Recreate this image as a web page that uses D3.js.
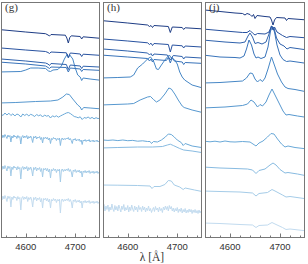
<!DOCTYPE html>
<html>
<head>
<meta charset="utf-8">
<script src="https://cdn.jsdelivr.net/npm/d3@7"></script>
<style>
  body { margin: 0; background: #fff; }
  svg { display: block; }
</style>
</head>
<body>
<div id="plot"></div>
<script>
// wavelength grids for the noisy (sampled) spectra
var grid = d3.range(4550, 4751, 4);
var fine = d3.range(4550, 4751, 2);

// ---- panel (g) ----
var g1 = [[4545,20.75],[4600,20.5],[4640,20.33],[4645,20.2],[4648,20.1],[4651,20.25],[4680,20.18],[4683,19.9],[4686,19.4],[4689,19.95],[4692,20.12],[4710,20.05],[4713,19.8],[4716,20.02],[4755,19.85]];
var g2 = [[4545,18.92],[4600,18.7],[4640,18.55],[4645,18.45],[4648,18.35],[4651,18.5],[4682,18.42],[4686,17.95],[4690,18.4],[4710,18.3],[4713,18.05],[4716,18.28],[4755,18.15]];
var g3 = [[4545,17.82],[4600,17.6],[4640,17.4],[4645,17.3],[4648,17.15],[4651,17.35],[4682,17.25],[4686,16.75],[4690,17.2],[4710,17.1],[4713,16.85],[4716,17.08],[4755,16.98]];
var g4 = [[4545,17.5],[4600,17.3],[4640,17.1],[4645,16.95],[4648,16.85],[4651,17.0],[4682,16.95],[4686,16.5],[4690,16.9],[4710,16.8],[4713,16.55],[4716,16.75],[4755,16.65]];
var g5 = [[4545,16.5],[4590,16.55],[4600,16.7],[4610,16.9],[4625,16.9],[4640,16.85],[4646,16.6],[4650,16.55],[4655,16.7],[4665,16.75],[4672,17.1],[4678,17.8],[4684,18.3],[4686,17.9],[4689,18.2],[4695,17.8],[4700,16.9],[4705,16.2],[4710,16.0],[4713,15.65],[4716,15.9],[4730,15.8],[4755,15.65]];
var g6 = [[4545,13.4],[4580,13.45],[4620,13.55],[4650,13.6],[4665,13.7],[4675,14.0],[4682,14.3],[4688,14.25],[4695,13.8],[4705,13.2],[4710,13.0],[4713,12.7],[4717,12.95],[4730,12.9],[4755,12.8]];
var g7 = [12.3,12.15,12.4,12.2,12.38,12.15,12.32,12.1,12.3,12.22,12.0,12.3,12.15,12.3,12.1,12.27,12.18,12.05,12.25,12.12,12.22,12.0,12.2,12.08,12.15,11.9,12.12,12.02,12.12,11.98,12.1,12.2,12.3,12.4,12.45,12.35,12.2,12.05,12.0,11.92,12.02,11.75,11.95,11.88,12.0,11.85,11.96,11.82,11.93,11.84,11.9];
var g8 = [10.1,9.9,10.2,9.95,10.25,10.05,9.85,10.2,10.0,10.15,9.5,10.1,9.9,10.2,10.0,10.1,9.85,10.15,9.95,10.05,9.3,10.0,10.15,9.9,10.1,9.95,10.15,9.8,10.05,9.9,10.1,9.85,9.45,10.05,9.9,10.1,9.8,10.0,9.9,10.05,9.75,9.95,9.4,9.95,9.85,10.0,9.8,9.95,9.7,9.9,9.35,9.85,9.75,9.95,9.8,9.9,9.65,9.85,9.75,9.9,9.15,9.8,9.9,9.7,9.85,9.75,9.9,9.8,9.95,9.7,9.85,9.65,9.35,9.8,9.7,9.85,9.6,9.75,9.65,9.8,9.55,9.7,9.25,9.7,9.6,9.75,9.55,9.7,9.6,9.75,9.5,9.65,9.55,9.7,9.5,9.65,9.55,9.7,9.5,9.62,9.55];
var g9 = [7.0,6.75,7.1,6.8,7.15,6.9,6.6,7.1,6.85,7.05,6.1,7.0,6.75,7.1,6.9,7.0,6.7,7.05,6.8,6.95,5.8,6.9,7.05,6.75,7.0,6.8,7.05,6.6,6.95,6.75,7.0,6.7,6.1,6.95,6.75,7.0,6.6,6.9,6.75,6.95,6.55,6.85,6.0,6.85,6.7,6.9,6.6,6.85,6.5,6.8,5.9,6.75,6.6,6.85,6.65,6.8,6.45,6.75,6.6,6.8,5.5,6.7,6.8,6.55,6.75,6.6,6.8,6.65,6.85,6.55,6.75,6.5,6.0,6.7,6.55,6.75,6.45,6.65,6.5,6.7,6.4,6.6,6.0,6.6,6.45,6.65,6.4,6.6,6.45,6.65,6.35,6.55,6.4,6.6,6.35,6.55,6.4,6.6,6.35,6.52,6.45];
var g10 = [4.0,3.7,4.1,3.8,4.15,3.9,3.55,4.1,3.85,4.05,3.0,4.0,3.75,4.1,3.9,4.0,3.65,4.05,3.8,3.95,2.7,3.9,4.05,3.75,4.0,3.8,4.05,3.55,3.95,3.75,4.0,3.7,3.0,3.95,3.75,4.0,3.6,3.9,3.75,3.95,3.5,3.85,2.9,3.85,3.7,3.9,3.6,3.85,3.5,3.8,2.9,3.75,3.6,3.85,3.65,3.8,3.45,3.75,3.6,3.8,2.4,3.7,3.8,3.55,3.75,3.6,3.8,3.65,3.85,3.55,3.75,3.5,2.9,3.7,3.55,3.75,3.45,3.65,3.5,3.7,3.4,3.6,2.9,3.6,3.45,3.65,3.4,3.6,3.45,3.65,3.35,3.55,3.4,3.6,3.35,3.55,3.4,3.6,3.35,3.52,3.45];

// ---- panel (h) ----
var h1 = [[4545,21.65],[4600,21.4],[4640,21.2],[4644,21.05],[4647,21.15],[4650,20.95],[4653,21.15],[4682,21.05],[4686,20.45],[4690,21.0],[4710,20.95],[4713,20.75],[4716,20.92],[4755,20.8]];
var h2 = [[4545,19.82],[4600,19.6],[4640,19.42],[4644,19.25],[4647,19.38],[4650,19.15],[4653,19.35],[4682,19.25],[4686,18.5],[4690,19.2],[4710,19.12],[4713,18.9],[4716,19.1],[4755,18.98]];
var h3 = [[4545,18.82],[4600,18.6],[4640,18.4],[4644,18.2],[4647,18.35],[4650,18.1],[4653,18.3],[4680,18.2],[4686,17.7],[4692,18.15],[4710,18.05],[4713,17.8],[4716,18.0],[4755,17.88]];
var h4 = [[4545,18.2],[4600,18.0],[4640,17.85],[4644,17.6],[4647,17.8],[4650,17.5],[4653,17.75],[4678,17.65],[4682,17.95],[4686,17.4],[4690,17.95],[4694,17.6],[4710,17.5],[4713,17.25],[4716,17.45],[4755,17.35]];
var h5 = [[4545,15.9],[4580,15.95],[4605,16.0],[4612,16.2],[4620,16.9],[4630,17.3],[4640,17.8],[4646,18.0],[4652,17.6],[4658,16.8],[4662,16.75],[4668,17.2],[4675,17.7],[4680,18.0],[4684,18.2],[4688,17.9],[4695,17.7],[4700,17.3],[4705,16.5],[4710,16.0],[4715,15.7],[4730,15.2],[4755,14.85]];
var h6 = [[4545,13.2],[4600,13.3],[4612,13.35],[4625,13.7],[4640,14.0],[4646,14.05],[4652,13.75],[4658,13.5],[4665,13.7],[4675,14.3],[4683,14.9],[4688,14.8],[4695,14.3],[4702,13.7],[4710,13.1],[4714,12.95],[4730,12.7],[4755,12.4]];
var h7 = [[4545,9.72],[4560,9.66],[4570,9.7],[4580,9.64],[4590,9.7],[4600,9.63],[4610,9.66],[4620,9.58],[4630,9.62],[4640,9.55],[4645,9.55],[4648,9.35],[4652,9.55],[4660,9.5],[4668,9.7],[4676,10.0],[4682,10.3],[4688,10.25],[4694,10.0],[4700,9.7],[4708,9.45],[4712,9.15],[4716,9.35],[4730,9.1],[4755,8.9]];
var h8 = [[4545,8.9],[4580,8.95],[4620,9.0],[4650,9.0],[4670,9.05],[4680,9.2],[4686,9.28],[4692,9.15],[4705,8.85],[4713,8.7],[4730,8.6],[4755,8.4]];
var h9 = [[4545,5.2],[4580,5.18],[4620,5.15],[4645,5.1],[4649,4.85],[4653,5.05],[4665,5.05],[4675,5.25],[4682,5.65],[4688,5.6],[4694,5.2],[4705,5.0],[4712,4.75],[4716,4.9],[4735,4.7],[4755,4.5]];
var h10 = [2.9,3.25,2.6,3.1,2.75,3.2,2.55,3.0,2.7,3.3,2.8,2.55,3.15,2.7,3.05,2.6,3.2,2.85,2.5,3.1,2.75,3.25,2.6,2.95,2.7,3.15,2.5,3.0,2.65,3.2,2.8,2.55,3.1,2.7,3.0,2.5,3.15,2.75,2.95,2.55,3.1,2.7,3.0,2.5,2.9,2.65,3.1,2.6,2.85,2.45,2.75,2.95,2.55,3.05,2.7,2.9,2.5,3.0,2.65,2.85,2.45,3.0,2.7,3.1,2.75,3.05,2.6,3.15,2.8,3.05,2.6,2.9,2.5,2.85,2.6,2.95,2.45,2.8,2.55,2.9,2.4,2.75,2.5,2.85,2.4,2.7,2.45,2.8,2.5,2.75,2.35,2.7,2.45,2.75,2.4,2.65,2.35,2.7,2.4,2.6,2.45];

// ---- panel (j) ----
var j1 = [[4545,22.72],[4580,22.55],[4610,22.4],[4625,22.35],[4630,22.2],[4634,22.35],[4640,22.25],[4644,22.05],[4647,22.25],[4650,21.85],[4654,22.15],[4670,22.05],[4680,22.0],[4683,21.7],[4686,21.2],[4689,21.7],[4693,21.95],[4710,21.9],[4713,21.65],[4716,21.85],[4755,21.7]];
var j2 = [[4545,20.8],[4590,20.6],[4625,20.45],[4634,20.45],[4640,20.65],[4645,20.4],[4650,20.2],[4655,20.35],[4670,20.3],[4678,20.5],[4683,21.1],[4686,20.7],[4689,21.0],[4694,20.5],[4705,20.15],[4713,19.95],[4720,20.05],[4755,19.9]];
var j3 = [[4545,19.7],[4590,19.5],[4620,19.4],[4630,19.5],[4636,20.1],[4640,20.4],[4645,20.0],[4650,19.35],[4656,19.45],[4664,19.3],[4672,19.5],[4678,20.3],[4683,21.1],[4688,20.9],[4693,19.9],[4700,19.3],[4708,19.1],[4714,18.8],[4720,18.95],[4755,18.7]];
var j4 = [[4545,18.2],[4580,18.0],[4610,17.95],[4620,17.9],[4628,18.1],[4633,18.8],[4638,19.7],[4643,19.2],[4648,18.3],[4652,17.9],[4656,18.0],[4662,17.85],[4670,18.0],[4676,19.0],[4681,20.6],[4685,21.0],[4689,20.5],[4694,19.2],[4700,18.2],[4706,17.75],[4713,17.55],[4720,17.6],[4755,17.35]];
var j5 = [[4545,15.4],[4580,15.45],[4610,15.55],[4625,15.6],[4633,15.9],[4640,16.4],[4645,16.35],[4650,15.8],[4655,15.5],[4660,15.75],[4665,15.55],[4670,15.9],[4676,16.8],[4683,18.0],[4688,17.3],[4695,16.3],[4703,15.5],[4710,15.0],[4716,14.85],[4730,14.75],[4755,14.5]];
var j6 = [[4545,12.9],[4590,13.0],[4625,13.15],[4635,13.3],[4642,13.7],[4648,13.5],[4655,13.0],[4660,13.25],[4665,13.1],[4672,13.5],[4678,14.2],[4684,14.8],[4690,14.2],[4698,13.4],[4706,12.6],[4712,12.2],[4718,12.25],[4735,12.1],[4755,11.95]];
var j7 = [[4545,9.6],[4560,9.52],[4570,9.58],[4580,9.5],[4590,9.6],[4600,9.52],[4610,9.5],[4625,9.55],[4640,9.5],[4646,9.3],[4652,9.1],[4658,9.4],[4666,9.6],[4675,10.0],[4682,10.35],[4688,10.3],[4695,9.8],[4703,9.3],[4710,9.0],[4716,9.1],[4730,8.95],[4755,8.8]];
var j8 = [[4545,7.0],[4580,6.9],[4610,6.85],[4635,6.8],[4645,6.7],[4652,6.35],[4658,6.65],[4670,6.8],[4680,7.2],[4686,7.4],[4692,7.2],[4700,6.75],[4710,6.4],[4716,6.45],[4735,6.3],[4755,6.1]];
var j9 = [[4545,4.6],[4580,4.55],[4620,4.5],[4645,4.4],[4652,4.1],[4658,4.35],[4675,4.45],[4684,4.75],[4690,4.6],[4705,4.2],[4712,4.0],[4720,4.05],[4755,3.8]];
var j10 = [[4545,1.4],[4580,1.35],[4620,1.25],[4645,1.2],[4652,0.95],[4658,1.15],[4675,1.2],[4684,1.45],[4690,1.3],[4705,0.95],[4712,0.75],[4720,0.8],[4755,0.6]];

// line shades, top (dark) to bottom (light)
var shades = ["#1d3c85","#2852a0","#2f62ad","#3873ba","#4687c6","#5798cf","#6aa9d8","#88bbe1","#a5cce8","#c2dbef"];

var xTicks = [4600, 4700];
var xMinor = d3.range(4560, 4750, 20);

function onGrid(g, vals) { return d3.zip(g, vals); }

var panels = [
  {label: "(g)", left: 1,   right: 100, spectra: [g1, g2, g3, g4, g5, g6, onGrid(grid, g7), onGrid(fine, g8), onGrid(fine, g9), onGrid(fine, g10)]},
  {label: "(h)", left: 103, right: 202, spectra: [h1, h2, h3, h4, h5, h6, h7, h8, h9, onGrid(fine, h10)]},
  {label: "(j)", left: 205, right: 305, spectra: [j1, j2, j3, j4, j5, j6, j7, j8, j9, j10]}
];

var W = 308, H = 264, plotTop = 2, plotBottom = 237;

var svg = d3.select("#plot").append("svg")
  .attr("width", W)
  .attr("height", H);

var y = d3.scaleLinear().domain([0, 23.5]).range([plotBottom, plotTop]);

panels.forEach(function(p, i) {
  var x = d3.scaleLinear().domain([4550, 4750]).range([p.left, p.right]);

  svg.append("clipPath").attr("id", "clip" + i)
    .append("rect")
      .attr("x", p.left).attr("y", plotTop)
      .attr("width", p.right - p.left).attr("height", plotBottom - plotTop);

  var line = d3.line()
    .x(function(d) { return x(d[0]); })
    .y(function(d) { return y(d[1]); });

  var g = svg.append("g").attr("clip-path", "url(#clip" + i + ")");
  // light lines underneath, dark ones on top
  p.spectra.slice().reverse().forEach(function(s, k) {
    var idx = p.spectra.length - 1 - k;
    g.append("path")
      .datum(s)
      .attr("d", line)
      .attr("fill", "none")
      .attr("stroke", shades[idx])
      .attr("stroke-width", 1)
      .attr("stroke-linejoin", "round");
  });

  // frame
  svg.append("rect")
    .attr("x", p.left + 0.5).attr("y", plotTop + 0.5)
    .attr("width", p.right - p.left - 1).attr("height", plotBottom - plotTop)
    .attr("fill", "none")
    .attr("stroke", "#777")
    .attr("stroke-width", 1);

  // inward ticks on the bottom
  var ax = svg.append("g").attr("transform", "translate(0," + (plotBottom + 0.5) + ")");
  ax.selectAll(".minor").data(xMinor).enter().append("line")
    .attr("x1", function(d) { return Math.round(x(d)) + 0.5; })
    .attr("x2", function(d) { return Math.round(x(d)) + 0.5; })
    .attr("y1", 0).attr("y2", -2)
    .attr("stroke", "#777");
  ax.selectAll(".major").data(xTicks).enter().append("line")
    .attr("x1", function(d) { return Math.round(x(d)) + 0.5; })
    .attr("x2", function(d) { return Math.round(x(d)) + 0.5; })
    .attr("y1", 0).attr("y2", -4)
    .attr("stroke", "#777");
  ax.selectAll("text").data(xTicks).enter().append("text")
    .attr("x", function(d) { return x(d); })
    .attr("y", 12)
    .attr("text-anchor", "middle")
    .style("font-family", "'Liberation Sans', Arial, sans-serif")
    .style("font-size", "9.5px")
    .style("fill", "#333")
    .text(function(d) { return d; });

  svg.append("text")
    .attr("x", p.left + 4)
    .attr("y", 11)
    .style("font-family", "'Liberation Serif', 'Times New Roman', serif")
    .style("font-size", "11px")
    .style("fill", "#333")
    .text(p.label);
});

svg.append("text")
  .attr("x", 152)
  .attr("y", 261)
  .attr("text-anchor", "middle")
  .style("font-family", "'Liberation Serif', 'Times New Roman', serif")
  .style("font-size", "11.5px")
  .style("fill", "#333")
  .text("λ [Å]");
</script>
</body>
</html>
